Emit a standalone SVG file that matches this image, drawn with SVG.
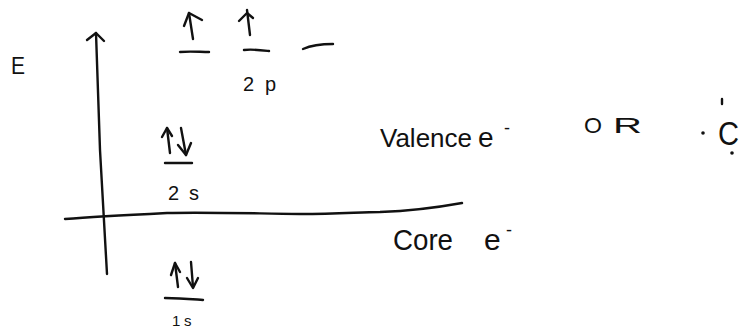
<svg xmlns="http://www.w3.org/2000/svg" width="755" height="330" viewBox="0 0 755 330">
<style>
.ink{fill:none;stroke:#111;stroke-width:2.4;stroke-linecap:round;stroke-linejoin:round}
.t{font-family:"Liberation Sans",Arial,sans-serif;fill:#111}
</style>
<rect width="755" height="330" fill="#fff"/>
<g id="axes">
<path class="ink" d="M96,33 L100,150 L107,274"/>
<polyline class="ink" points="87,40 96,33 104,41"/>
<path class="ink" d="M65,219 C90,217 107,216 167,213 C200,212 233,213 300,214 C340,214 360,212 380,212 C410,211 440,207 462,203"/>
</g>
<g id="axis-label"><text class="t" x="11" y="74" font-size="24" textLength="14" lengthAdjust="spacingAndGlyphs">E</text></g>
<g id="orbitals-2p">
<path class="ink" d="M180,52 C190,51 200,52 209,52"/>
<path class="ink" d="M193,39 L189,13"/>
<polyline class="ink" points="184,26 189,13 202,20"/>
<path class="ink" d="M244,50 C252,49 260,50 269,51"/>
<path class="ink" d="M250,35 L247,10"/>
<polyline class="ink" points="239,21 247,13 253,18"/>
<path class="ink" d="M303,49 C312,45 322,44 333,44"/>
<text class="t" font-size="20" y="91"><tspan x="243">2</tspan><tspan x="265">p</tspan></text>
</g>
<g id="orbital-2s">
<path class="ink" d="M167,128 L170,153"/>
<polyline class="ink" points="162,137 167,128 172,136"/>
<path class="ink" d="M181,128 L186,155"/>
<polyline class="ink" points="178,145 186,155 191,143"/>
<path class="ink" d="M165,163 L192,163"/>
<text class="t" font-size="20" y="200"><tspan x="168">2</tspan><tspan x="189">s</tspan></text>
</g>
<g id="orbital-1s">
<path class="ink" d="M175,263 L178,287"/>
<polyline class="ink" points="171,275 175,263 180,272"/>
<path class="ink" d="M191,262 L193,287"/>
<polyline class="ink" points="187,278 193,288 198,278"/>
<path class="ink" d="M165,298 C180,298 190,299 203,300"/>
<text class="t" font-size="15" y="326"><tspan x="172">1</tspan><tspan x="184">s</tspan></text>
</g>
<g id="valence">
<text class="t" font-size="26" y="147"><tspan x="380" textLength="92" lengthAdjust="spacingAndGlyphs">Valence</tspan><tspan x="478" font-size="28">e</tspan><tspan x="504" y="134" font-size="18">-</tspan></text>
</g>
<g id="or"><text class="t" font-size="22" y="133"><tspan x="584" textLength="18" lengthAdjust="spacingAndGlyphs">O</tspan><tspan x="613" textLength="29" lengthAdjust="spacingAndGlyphs">R</tspan></text></g>
<g id="carbon">
<text class="t" x="718" y="145" font-size="34" textLength="21" lengthAdjust="spacingAndGlyphs">C</text>
<circle cx="703" cy="133" r="1.8" fill="#111"/>
<path class="ink" d="M722,99 L722,104"/>
<circle cx="732" cy="153" r="1.8" fill="#111"/>
</g>
<g id="core">
<text class="t" font-size="30" y="250"><tspan x="393" textLength="60" lengthAdjust="spacingAndGlyphs">Core</tspan><tspan x="484">e</tspan><tspan x="506" y="236" font-size="18">-</tspan></text>
</g>
</svg>
